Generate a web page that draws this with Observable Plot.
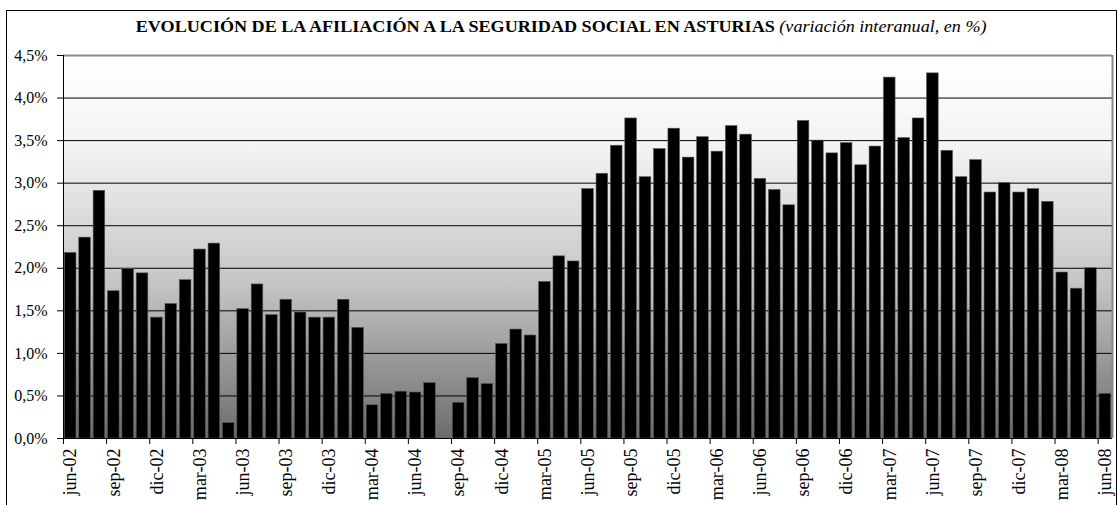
<!DOCTYPE html>
<html><head><meta charset="utf-8">
<script src="https://cdn.jsdelivr.net/npm/d3@7"></script>
<script src="https://cdn.jsdelivr.net/npm/@observablehq/plot@0.6"></script>
<style>
body{margin:0;background:#fff;width:1118px;height:505px;overflow:hidden;position:relative;font-family:"Liberation Serif","Times New Roman",serif;}
#frame{position:absolute;left:6px;top:10px;width:1111px;height:520px;border:1px solid #000;box-sizing:border-box;}
#title{position:absolute;left:6px;top:18px;width:1111px;text-align:center;font-size:17px;line-height:18px;color:#000;white-space:nowrap;transform:scaleX(1.065);transform-origin:561px 0;}
#title b{font-weight:bold;}
#title i{font-weight:normal;font-style:italic;}
#chart{position:absolute;left:0;top:45px;}
</style></head>
<body>
<div id="frame"></div>
<div id="title"><b>EVOLUCIÓN DE LA AFILIACIÓN A LA SEGURIDAD SOCIAL EN ASTURIAS</b> <i>(variación interanual, en %)</i></div>
<div id="chart"></div>
<script>
// Year-over-year change (%) by month, jun-02 .. jun-08
const monthAbbr = ["ene","feb","mar","abr","may","jun","jul","ago","sep","oct","nov","dic"];
const values = [
  2.18,2.36,2.91,1.73,1.99,1.94,1.42,1.58,1.86,2.22,2.29,0.18,
  1.52,1.81,1.45,1.63,1.48,1.42,1.42,1.63,1.30,0.39,0.525,0.55,
  0.54,0.65,null,0.42,0.71,0.64,1.11,1.28,1.21,1.84,2.14,2.08,
  2.93,3.11,3.44,3.76,3.07,3.40,3.64,3.30,3.54,3.37,3.67,3.57,
  3.05,2.92,2.74,3.73,3.50,3.35,3.47,3.21,3.43,4.24,3.53,3.76,
  4.29,3.38,3.07,3.27,2.89,3.00,2.89,2.93,2.78,1.95,1.76,2.00,0.525
];
const categories = values.map((_, i) => {
  const m = (5 + i) % 12, y = 2 + Math.floor((5 + i) / 12);
  return monthAbbr[m] + "-" + String(y).padStart(2, "0");
});
const tickLabels = ["jun-02","sep-02","dic-02","mar-03","jun-03","sep-03","dic-03","mar-04","jun-04","sep-04","dic-04","mar-05","jun-05","sep-05","dic-05","mar-06","jun-06","sep-06","dic-06","mar-07","jun-07","sep-07","dic-07","mar-08","jun-08"];
const yTicks = [0,0.5,1,1.5,2,2.5,3,3.5,4,4.5];

const data = categories.map((c, i) => ({i, c, v: values[i]})).filter(d => d.v != null);
const labelData = categories.map((c, i) => ({i, c})).filter(d => tickLabels.includes(d.c));

function background(index, scales, values, dims) {
  const ns = "http://www.w3.org/2000/svg";
  const g = document.createElementNS(ns, "g");
  const x = dims.marginLeft, y = dims.marginTop;
  const w = dims.width - dims.marginLeft - dims.marginRight;
  const h = dims.height - dims.marginTop - dims.marginBottom;
  g.innerHTML = `<defs><linearGradient id="bgGrad" x1="0" y1="0" x2="0" y2="1">
    <stop offset="0" stop-color="#ffffff"/><stop offset="0.25" stop-color="#f2f2f2"/>
    <stop offset="0.6" stop-color="#c4c4c4"/><stop offset="1" stop-color="#6c6c6c"/></linearGradient></defs>
    <rect x="${x}" y="${y}" width="${w}" height="${h}" fill="url(#bgGrad)"/>`;
  return g;
}

const plot = Plot.plot({
  width: 1118,
  height: 460,
  marginLeft: 63,
  marginRight: 6,
  marginTop: 10,
  marginBottom: 67,
  style: {fontFamily: "'Liberation Serif','Times New Roman',serif", fontSize: "16px", color: "#000", background: "transparent"},
  x: {type: "linear", domain: [0, categories.length]},
  y: {domain: [0, 4.5]},
  marks: [
    background,
    Plot.ruleY(yTicks.filter(t => t > 0 && t < 4.5), {stroke: "#000", strokeWidth: 1}),
    Plot.rectY(data, {x1: d => d.i, x2: d => d.i + 1, y: "v", fill: "#000", stroke: "#555", strokeWidth: 0.6, insetLeft: 1.4, insetRight: 1.4}),
    Plot.ruleY([4.5], {stroke: "#888", strokeWidth: 2}),
    Plot.ruleX([categories.length], {stroke: "#888", strokeWidth: 2}),
    Plot.ruleX([0], {stroke: "#000"}),
    Plot.ruleY([0], {stroke: "#000"}),
    Plot.axisY({ticks: yTicks, label: null, tickSize: 6, tickPadding: 10, tickFormat: d => d.toFixed(1).replace(".", ",") + "%", stroke: "#000", fill: "#000", fontSize: 16}),
    Plot.axisX({ticks: labelData.map(d => d.i), label: null, tickSize: 6, tickFormat: () => "", stroke: "#000"}),
    Plot.text(labelData, {x: d => d.i + 0.5, y: 0, text: "c", rotate: -90, textAnchor: "end", lineAnchor: "middle", dy: 10, fontSize: 18, fill: "#000"})
  ]
});
document.getElementById("chart").appendChild(plot);
</script>
</body></html>
